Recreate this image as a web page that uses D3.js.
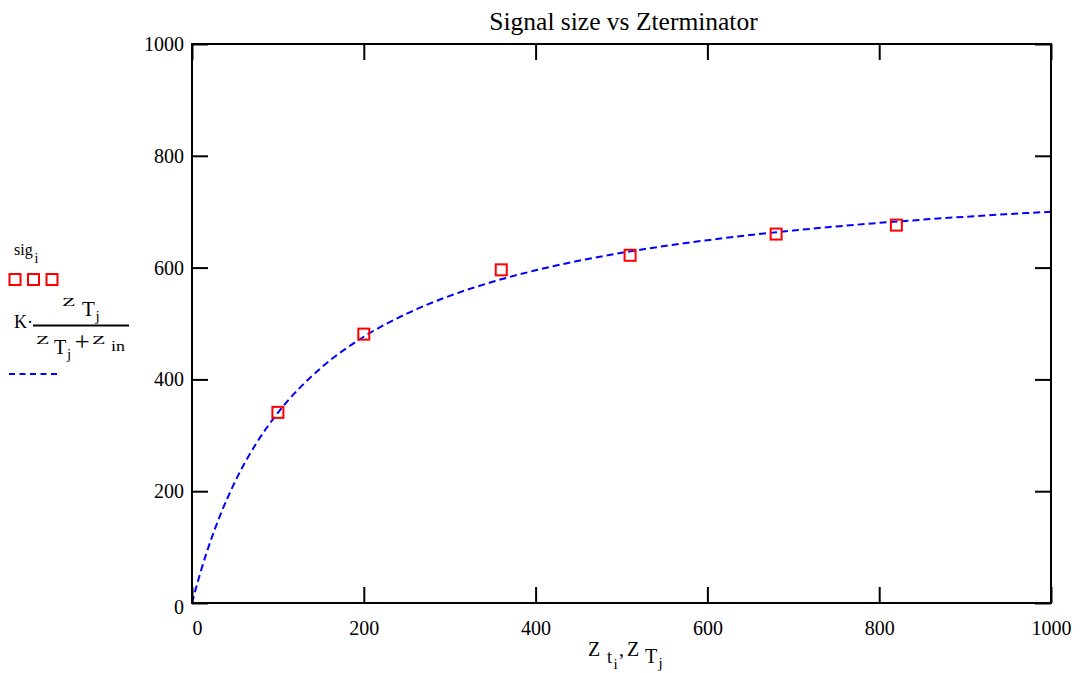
<!DOCTYPE html>
<html><head><meta charset="utf-8">
<script src="https://cdn.jsdelivr.net/npm/d3@7"></script>
<style>body{margin:0;background:#fff}svg{display:block}svg text{font-family:"Liberation Serif","Times New Roman",Times,"DejaVu Serif",serif !important;fill:#000}</style>
</head><body>
<svg id="c" width="1082" height="673"></svg>
<script>
const xTicks = [0, 200, 400, 600, 800, 1000];
const yTicks = [0, 200, 400, 600, 800, 1000];
const sigZ = [100, 200, 360, 510, 680, 820];
const sigV = [341, 481, 596, 622, 660, 676];
const curveZ = [0, 10, 25, 50, 75, 100, 150, 200, 250, 300, 350, 400, 450, 500, 550, 600, 650, 700, 750, 800, 850, 900, 950, 1000];
const curveV = [0, 55.5, 125.5, 216.7, 285.9, 340.3, 420.3, 476.3, 517.6, 549.4, 574.6, 595.1, 612.1, 626.4, 638.6, 649.1, 658.3, 666.4, 673.6, 680.0, 685.7, 690.9, 695.6, 699.9];

const svg = d3.select("#c");
const L = 192, R = 1051, T = 44, B = 603;
const x = d3.scaleLinear().domain([0, 1000]).range([L, R]);
const y = d3.scaleLinear().domain([0, 1000]).range([B, T]);
const tk = 16;

// curve
svg.append("path")
  .datum(curveZ.map((z, i) => [z, curveV[i]]))
  .attr("fill", "none").attr("stroke", "#0000ff").attr("stroke-width", 2)
  .attr("stroke-dasharray", "7,4")
  .attr("d", d3.line().x(d => x(d[0])).y(d => y(d[1])).curve(d3.curveMonotoneX));

// frame
svg.append("rect").attr("x", L).attr("y", T).attr("width", R - L).attr("height", B - T)
  .attr("fill", "none").attr("stroke", "#000").attr("stroke-width", 2);

// axes with inward ticks
const gx = svg.append("g").attr("transform", `translate(0,${B})`)
  .call(d3.axisBottom(x).tickValues(xTicks).tickSize(-tk).tickPadding(18).tickFormat(d3.format("d")));
const gxt = svg.append("g").attr("transform", `translate(0,${T})`)
  .call(d3.axisTop(x).tickValues(xTicks).tickSize(-tk).tickFormat(""));
const gy = svg.append("g").attr("transform", `translate(${L},0)`)
  .call(d3.axisLeft(y).tickValues(yTicks).tickSize(-tk).tickPadding(8).tickFormat(d3.format("d")));
const gyr = svg.append("g").attr("transform", `translate(${R},0)`)
  .call(d3.axisRight(y).tickValues(yTicks).tickSize(-tk).tickFormat(""));
[gx, gxt, gy, gyr].forEach(g => {
  g.attr("font-family", null).attr("font-size", null);
  g.select(".domain").remove();
  g.selectAll(".tick line").attr("stroke", "#000").attr("stroke-width", 2);
  g.selectAll(".tick text").style("font-size", "20px").attr("fill", "#000");
});
gx.selectAll(".tick text").filter(d => d === 0).attr("dx", 5);
gy.selectAll(".tick text").filter(d => d === 0).attr("dy", "0.5em");

// squares
svg.append("g").selectAll("rect").data(sigZ.map((z, i) => [z, sigV[i]])).join("rect")
  .attr("x", d => x(d[0]) - 5.5).attr("y", d => y(d[1]) - 5.5)
  .attr("width", 11).attr("height", 11)
  .attr("fill", "none").attr("stroke", "#ff0000").attr("stroke-width", 2);

// title
svg.append("text").attr("x", 623.5).attr("y", 30).attr("text-anchor", "middle")
  .style("font-size", "25.5px").text("Signal size vs Zterminator");

// helper for individually placed glyphs
function glyph(str, gx0, base, size, sy) {
  const t = svg.append("text").style("font-size", size + "px").text(str);
  if (sy && sy !== 1) t.attr("transform", `translate(${gx0},${base}) scale(1,${sy})`);
  else t.attr("x", gx0).attr("y", base);
  return t;
}

// x label: Z t_i , Z T_j
glyph("Z", 588, 656, 20);
glyph("t", 607, 663, 18);
glyph("i", 613.5, 669, 15);
glyph(",", 619, 656, 20);
glyph("Z", 627, 656, 20);
glyph("T", 645, 663, 20);
glyph("j", 658.5, 668, 15);

// legend
glyph("sig", 14, 255, 16);
glyph("i", 34.5, 263, 14);
[0, 1, 2].forEach(i => svg.append("rect").attr("x", 9.5 + i * 18.5).attr("y", 274).attr("width", 11).attr("height", 11)
  .attr("fill", "none").attr("stroke", "#ff0000").attr("stroke-width", 2));

glyph("Z", 62, 306, 22, 0.6);
glyph("T", 82, 316, 21);
glyph("j", 95.5, 321, 15);
glyph("K·", 14, 328, 18);
svg.append("line").attr("x1", 33).attr("x2", 129).attr("y1", 325.5).attr("y2", 325.5).attr("stroke", "#000").attr("stroke-width", 2);
glyph("Z", 36, 344, 22, 0.6);
glyph("T", 54, 354, 20);
glyph("j", 67, 359, 15);
glyph("+", 74.5, 351, 27);
glyph("Z", 92, 344, 22, 0.6);
glyph("in", 111, 351, 18, 0.8);
svg.append("line").attr("x1", 9).attr("x2", 60).attr("y1", 374).attr("y2", 374)
  .attr("stroke", "#0000ff").attr("stroke-width", 2).attr("stroke-dasharray", "6,4.5");
</script>
</body></html>
